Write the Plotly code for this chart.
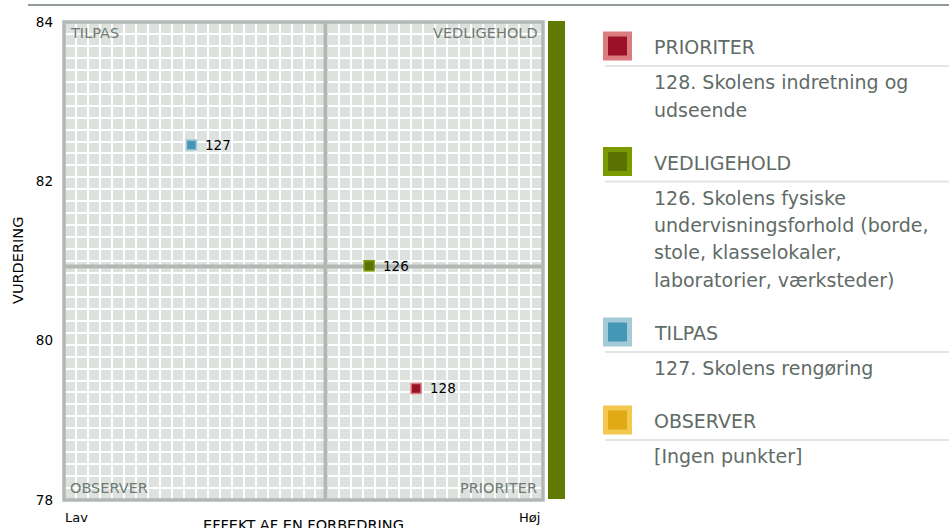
import plotly.graph_objects as go

# ---------------- data ----------------
item_ids = ["126", "127", "128"]
effekt = [63.7, 26.6, 73.5]            # EFFEKT AF EN FORBEDRING (Lav .. Høj)
vurdering = [80.94, 82.455, 79.40]     # VURDERING
item_quadrant = ["VEDLIGEHOLD", "TILPAS", "PRIORITER"]

y_range = [78, 84]
y_ticks = [78, 80, 82, 84]
x_range = [0, 100]
x_end_labels = ["Lav", "Høj"]
x_title = "EFFEKT AF EN FORBEDRING"
y_title = "VURDERING"

quadrant_names = ["PRIORITER", "VEDLIGEHOLD", "TILPAS", "OBSERVER"]
quadrant_descriptions = [
    ["128. Skolens indretning og", "udseende"],
    ["126. Skolens fysiske", "undervisningsforhold (borde,",
     "stole, klasselokaler,", "laboratorier, værksteder)"],
    ["127. Skolens rengøring"],
    ["[Ingen punkter]"],
]
overall_quadrant = "VEDLIGEHOLD"

# ---------------- styles ----------------
fill = {"PRIORITER": "#9b1228", "VEDLIGEHOLD": "#5c7200",
        "TILPAS": "#4498b6", "OBSERVER": "#e0aa14"}
edge = {"PRIORITER": "#db7d80", "VEDLIGEHOLD": "#7b9a00",
        "TILPAS": "#a4cad8", "OBSERVER": "#f2c84e"}
bar_color = "#617a00"
frame = "#b3b8b5"
cell_bg = "#dde2df"
quad_text = "#6e7a73"
legend_text = "#5f6b66"
FONT = "DejaVu Sans"

W, H = 949, 528
L, R, T, B = 64, 543, 22, 500


def px(X):
    return (X - L) / (R - L)


def py(Y):
    return (B - Y) / (B - T)


mean_x = sum(effekt) / len(effekt)
mean_y = sum(vurdering) / len(vurdering)

fig = go.Figure()
# quadrant divider lines (at the mean of the points)
fig.add_trace(go.Scatter(x=[mean_x, mean_x], y=y_range, mode="lines",
                         line=dict(color=frame, width=4), hoverinfo="skip", showlegend=False))
fig.add_trace(go.Scatter(x=x_range, y=[mean_y, mean_y], mode="lines",
                         line=dict(color=frame, width=4), hoverinfo="skip", showlegend=False))
# points
fig.add_trace(go.Scatter(
    x=effekt, y=vurdering, mode="markers",
    marker=dict(symbol="square", size=10,
                color=[fill[q] for q in item_quadrant],
                line=dict(width=1.5, color=[edge[q] for q in item_quadrant])),
    hoverinfo="skip", showlegend=False, cliponaxis=False,
))

shapes = []
# frame
shapes.append(dict(type="rect", xref="paper", yref="paper", x0=0, x1=1, y0=0, y1=1,
                   line=dict(color=frame, width=3.5), layer="above"))
# overall bar on the right
shapes.append(dict(type="rect", xref="paper", yref="paper",
                   x0=px(548), x1=px(565), y0=py(499), y1=py(21),
                   fillcolor=bar_color, line=dict(width=0), layer="above"))
# top rule
shapes.append(dict(type="line", xref="paper", yref="paper",
                   x0=px(28), x1=px(949), y0=py(5), y1=py(5),
                   line=dict(color="#6f7a75", width=1.5)))

annotations = []
# point labels
for lab, xv, yv in zip(item_ids, effekt, vurdering):
    annotations.append(dict(text=lab, x=xv, y=yv, xref="x", yref="y",
                            xanchor="left", yanchor="middle", xshift=12, showarrow=False,
                            font=dict(family=FONT, size=13.5, color="#000000")))

# quadrant labels inside plot
qfont = dict(family=FONT, size=14.5, color=quad_text)
for name, X, Y, xa in [("TILPAS", 68, 33.5, "left"), ("VEDLIGEHOLD", 540, 33.5, "right"),
                       ("OBSERVER", 68, 488, "left"), ("PRIORITER", 539, 488, "right")]:
    annotations.append(dict(text=name, xref="paper", yref="paper", x=px(X), y=py(Y),
                            xanchor=xa, yanchor="middle", showarrow=False, font=qfont))

# axis labels
afont = dict(family=FONT, size=13, color="#000000")
annotations.append(dict(text=x_end_labels[0], xref="paper", yref="paper", x=px(63), y=py(517),
                        xanchor="left", yanchor="middle", showarrow=False, font=afont))
annotations.append(dict(text=x_end_labels[1], xref="paper", yref="paper", x=px(542), y=py(517),
                        xanchor="right", yanchor="middle", showarrow=False, font=afont))
annotations.append(dict(text=x_title, xref="paper", yref="paper", x=px(303), y=py(525),
                        xanchor="center", yanchor="middle", showarrow=False,
                        font=dict(family=FONT, size=14.5, color="#000000")))
annotations.append(dict(text=y_title, xref="paper", yref="paper", x=px(18), y=py(261),
                        xanchor="center", yanchor="middle", showarrow=False, textangle=-90,
                        font=dict(family=FONT, size=14.5, color="#000000")))

# legend panel on the right
lfont = dict(family=FONT, size=19, color=legend_text)
head_y = 47
for name, lines in zip(quadrant_names, quadrant_descriptions):
    cy = head_y - 1
    shapes.append(dict(type="rect", xref="paper", yref="paper",
                       x0=px(603), x1=px(632), y0=py(cy + 14.5), y1=py(cy - 14.5),
                       fillcolor=edge[name], line=dict(width=0)))
    shapes.append(dict(type="rect", xref="paper", yref="paper",
                       x0=px(608), x1=px(627), y0=py(cy + 9.5), y1=py(cy - 9.5),
                       fillcolor=fill[name], line=dict(width=0)))
    annotations.append(dict(text=name, xref="paper", yref="paper", x=px(652), y=py(head_y),
                            xanchor="left", yanchor="middle", showarrow=False, font=lfont))
    sep = head_y + 19
    shapes.append(dict(type="line", xref="paper", yref="paper",
                       x0=px(605), x1=px(949), y0=py(sep), y1=py(sep),
                       line=dict(color="#e3e5e4", width=2)))
    ly = sep + 16
    for i, ln in enumerate(lines):
        annotations.append(dict(text=ln, xref="paper", yref="paper", x=px(652),
                                y=py(ly + i * 27.5), xanchor="left", yanchor="middle",
                                showarrow=False, font=lfont))
    head_y = ly + (len(lines) - 1) * 27.5 + 53

fig.update_layout(
    width=W, height=H,
    margin=dict(l=L, r=W - R, t=T, b=H - B, pad=0),
    paper_bgcolor="#ffffff", plot_bgcolor=cell_bg,
    shapes=shapes, annotations=annotations,
    font=dict(family=FONT),
    xaxis=dict(range=x_range, showticklabels=False, ticks="", zeroline=False,
               showline=False, dtick=25, tick0=0, showgrid=True, gridcolor="#ffffff",
               gridwidth=2, minor=dict(dtick=2.5, showgrid=True, gridcolor="#ffffff",
                                       gridwidth=2, ticks=""), fixedrange=True),
    yaxis=dict(range=y_range, tickvals=y_ticks, ticks="", zeroline=False, showline=False,
               showgrid=False,
               tickfont=dict(family=FONT, size=13.5, color="#000000"),
               ticklabelstandoff=10,
               minor=dict(tick0=78, dtick=0.15, showgrid=True, gridcolor="#ffffff",
                          gridwidth=2, ticks=""), fixedrange=True),
)

fig.write_html("out.html", config={"displayModeBar": False},
               post_script="document.body.style.margin='0';document.body.style.overflow='hidden';")
